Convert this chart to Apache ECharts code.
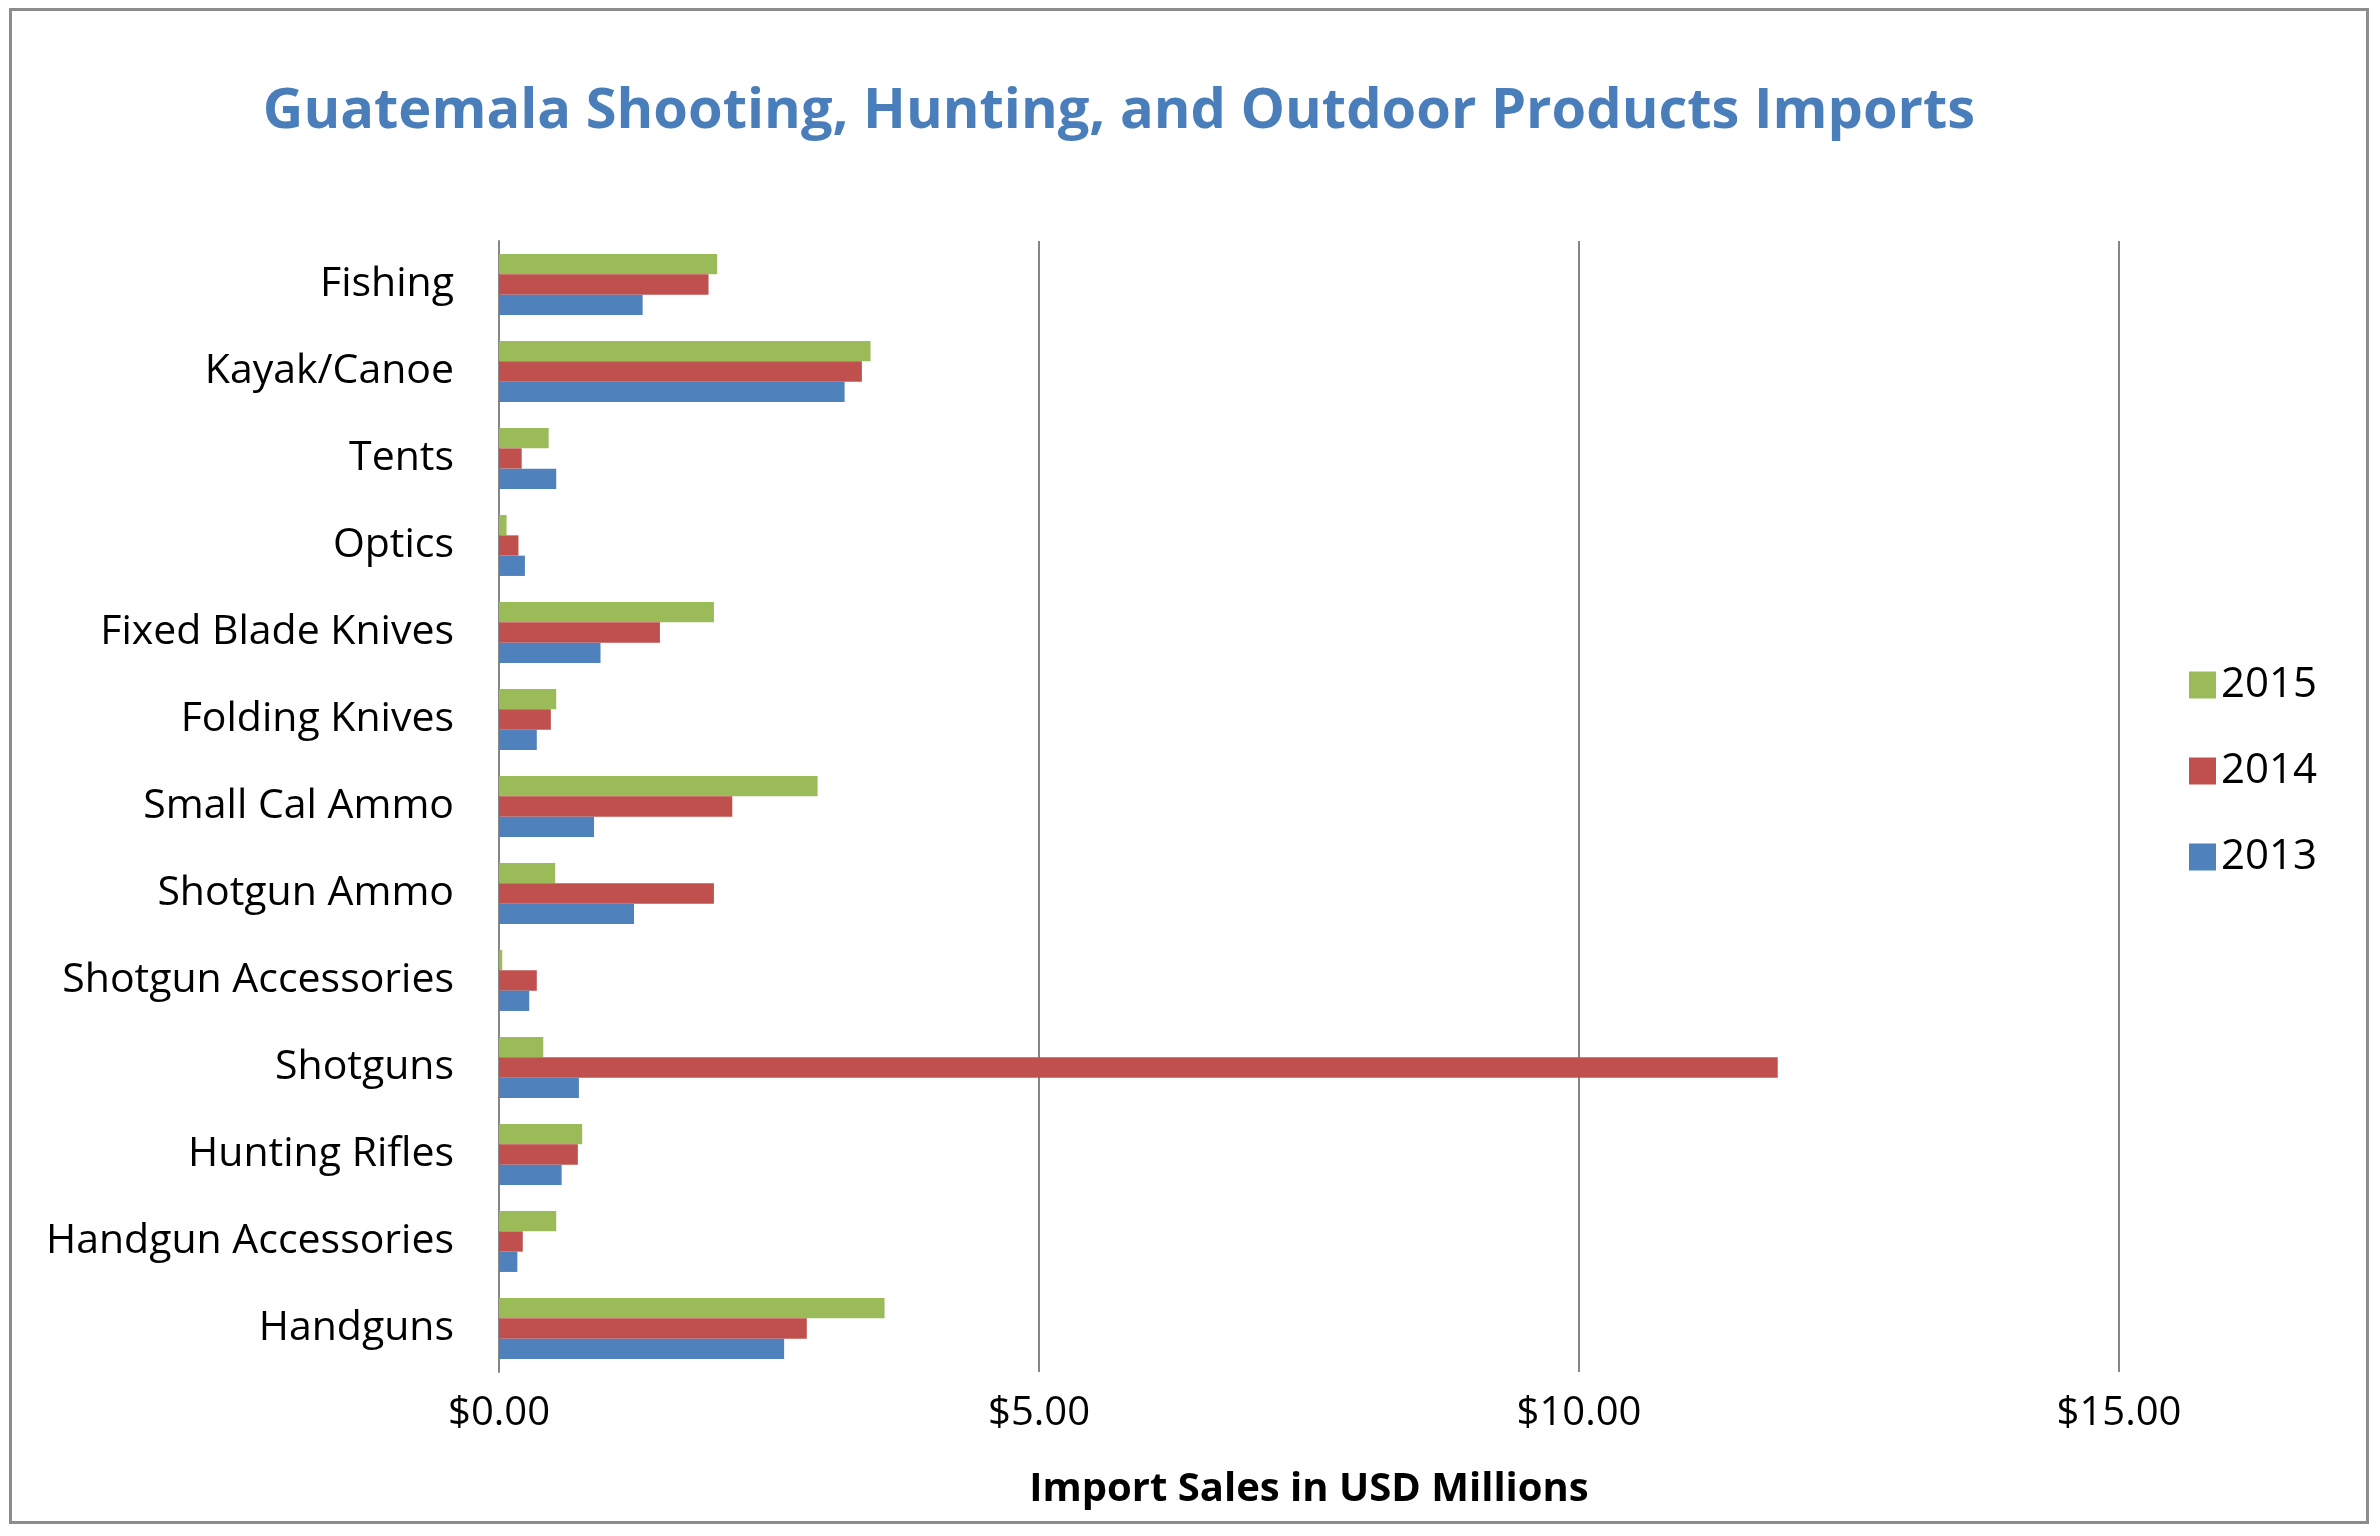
<!DOCTYPE html>
<html>
<head>
<meta charset="utf-8">
<script src="https://cdn.jsdelivr.net/npm/echarts@6/dist/echarts.min.js"></script>
<style>
  body{margin:0;background:#fff;}
  #chart{position:absolute;left:9px;top:8px;width:2360px;height:1516px;border:3px solid #8c8c8c;box-sizing:border-box;}
</style>
</head>
<body>
<div id="chart"></div>
<script>
    var categories = ['Fishing','Kayak/Canoe','Tents','Optics','Fixed Blade Knives','Folding Knives','Small Cal Ammo','Shotgun Ammo','Shotgun Accessories','Shotguns','Hunting Rifles','Handgun Accessories','Handguns'];
    var v2015 = [2.02, 3.44, 0.46, 0.07, 1.99, 0.53, 2.95, 0.52, 0.03, 0.41, 0.77, 0.53, 3.57];
    var v2014 = [1.94, 3.36, 0.21, 0.18, 1.49, 0.48, 2.16, 1.99, 0.35, 11.84, 0.73, 0.22, 2.85];
    var v2013 = [1.33, 3.20, 0.53, 0.24, 0.94, 0.35, 0.88, 1.25, 0.28, 0.74, 0.58, 0.17, 2.64];

    var font = 'Open Sans, Liberation Sans, sans-serif';
    var myChart = echarts.init(document.getElementById('chart'));
    var option = {
        animation: false,
        title: {
            text: 'Guatemala Shooting, Hunting, and Outdoor Products Imports',
            left: 1102, top: 68, textAlign: 'center',
            textStyle: {color: '#4a7ebb', fontSize: 56, fontWeight: 'bold', fontFamily: font}
        },
        legend: {
            orient: 'vertical', left: 2172, top: 648,
            itemWidth: 27, itemHeight: 27, itemGap: 44,
            icon: 'rect',
            textStyle: {fontSize: 42, color: '#000', fontFamily: font},
            data: ['2015','2014','2013']
        },
        grid: {left: 487, right: 247, top: 230, bottom: 149},
        xAxis: {
            type: 'value', min: 0, max: 15, interval: 5,
            axisLabel: {fontSize: 40, color: '#000', fontFamily: font, margin: 22,
                formatter: function (v) { return '$' + v.toFixed(2); }},
            splitLine: {lineStyle: {color: '#868686', width: 2}},
            axisLine: {show: false},
            name: 'Import Sales in USD Millions', nameLocation: 'middle', nameGap: 98,
            nameTextStyle: {fontSize: 40, fontWeight: 'bold', color: '#000', fontFamily: font}
        },
        yAxis: {
            type: 'category', inverse: true, data: categories,
            axisLine: {lineStyle: {color: '#868686', width: 2}},
            axisTick: {length: 12, lineStyle: {color: '#868686', width: 2}},
            axisLabel: {fontSize: 41, color: '#000', fontFamily: font, margin: 45}
        },
        series: [
            {name: '2015', type: 'bar', data: v2015, itemStyle: {color: '#9bbb59'}, barGap: '0%', barCategoryGap: '30%'},
            {name: '2014', type: 'bar', data: v2014, itemStyle: {color: '#c0504d'}},
            {name: '2013', type: 'bar', data: v2013, itemStyle: {color: '#4f81bd'}}
        ]
    };
    myChart.setOption(option);
</script>
</body>
</html>
